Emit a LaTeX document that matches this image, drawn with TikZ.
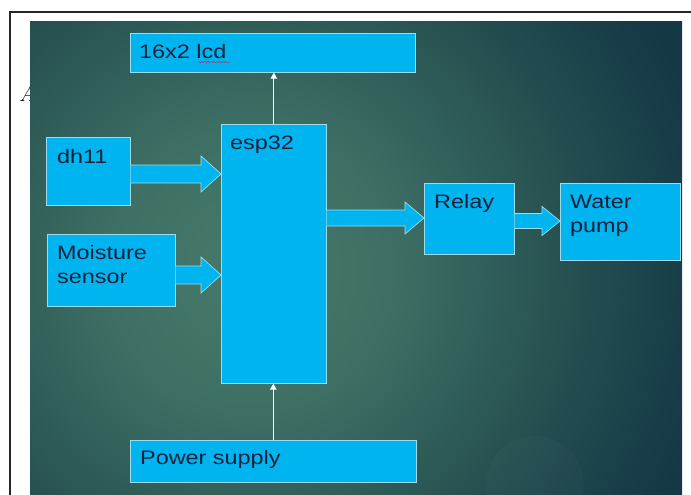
\documentclass[tikz,border=0pt]{standalone}
\usepackage{fontspec}
\newfontfamily\boxfont[FakeStretch=1.2]{Liberation Sans}
\usetikzlibrary{calc,arrows.meta,decorations.pathmorphing}

\definecolor{boxfill}{HTML}{00B5EF}
\definecolor{boxline}{HTML}{9BDDEE}
\definecolor{boxtext}{HTML}{12203C}
\definecolor{bgin}{HTML}{47796B}
\definecolor{bgnear}{HTML}{3E6F64}
\definecolor{bgmid}{HTML}{2D5A56}
\definecolor{bgfar}{HTML}{244C4F}
\definecolor{bgedge}{HTML}{1A404A}
\definecolor{bgout}{HTML}{153845}
\definecolor{spellred}{HTML}{B0406A}
\pgfdeclareradialshading{bgshade}{\pgfpoint{0bp}{0bp}}{color(0bp)=(bgin); color(6.8bp)=(bgnear); color(12.6bp)=(bgmid); color(16.3bp)=(bgfar); color(19.9bp)=(bgedge); color(22.6bp)=(bgout); color(50bp)=(bgout)}

\tikzset{
  blk/.style={draw=boxline, fill=boxfill, line width=0.7pt, anchor=north west, inner sep=0pt},
  lbl/.style={anchor=base west, inner sep=0pt, text=boxtext, align=left, font=\boxfont\fontsize{19.5}{24}\selectfont},
  fatarr/.style={draw=boxline, fill=boxfill, line width=0.7pt, line join=miter},
  wire/.style={draw=white, line width=1.1pt, -{Triangle[length=6pt,width=6.5pt]}},
}

% fat arrow: from, to, y, shaft half, head half, head length
\newcommand{\fatarrow}[6]{%
  \coordinate (fa-s) at (#1.east |- 0,#3);
  \coordinate (fa-e) at (#2.west |- 0,#3);
  \filldraw[fatarr] ($(fa-s)+(0,-#4)$) -- ($(fa-e)+(-#6,-#4)$) -- ($(fa-e)+(-#6,-#5)$)
    -- (fa-e) -- ($(fa-e)+(-#6,#5)$) -- ($(fa-e)+(-#6,#4)$) -- ($(fa-s)+(0,#4)$);
}

\begin{document}
\begin{tikzpicture}[x=1pt, y=-1pt]
  \useasboundingbox (0,0) rectangle (691,495);

  % Marco y letra suelta
  \draw[line width=1.2pt, black!85] (10,495) -- (10,12) -- (691,12);
  \node[font=\itshape\fontsize{22}{26}\selectfont, anchor=base west, inner sep=0pt] (stray) at (19,101) {A};

  % Fondo
  \begin{scope}
    \clip (30,22) rectangle (682,495);
    \shade[shading=bgshade] (250,270) circle (520pt);
    \fill[white, opacity=0.02] (535,485) circle (49pt);
  \end{scope}

  % Bloques
  \node[blk, minimum width=285, minimum height=39] (lcd) at (130,33) {};
  \node[blk, minimum width=84, minimum height=68] (dht) at (46,137) {};
  \node[blk, minimum width=105, minimum height=259] (esp) at (221,124) {};
  \node[blk, minimum width=128, minimum height=72] (moist) at (47,234) {};
  \node[blk, minimum width=90, minimum height=71] (relay) at (424,183) {};
  \node[blk, minimum width=120, minimum height=77] (pump) at (560,183) {};
  \node[blk, minimum width=286, minimum height=42] (psu) at (130,440) {};

  % Textos
  \node[lbl] (lcd-t) at (139,59) {16x2 lcd};
  \node[lbl] (dht-t) at (57,163) {dh11};
  \node[lbl] (esp-t) at (230,149) {esp32};
  \node[lbl] (moist-t) at (57,283) {Moisture\\sensor};
  \node[lbl] (relay-t) at (434,208) {Relay};
  \node[lbl] (pump-t) at (570,232) {Water\\pump};
  \node[lbl] (psu-t) at (140,464) {Power supply};
  \draw[spellred, line width=0.6pt, decorate, decoration={snake, amplitude=0.8pt, segment length=3pt}]
    (198,62) -- (229,62);

  % Flechas gruesas
  \fatarrow{dht}{esp}{174}{9}{18}{20}
  \fatarrow{moist}{esp}{275}{9}{18}{20}
  \fatarrow{esp}{relay}{218}{8}{16}{19}
  \fatarrow{relay}{pump}{221}{7.5}{14.5}{18}

  % Flechas finas
  \draw[wire] (esp.north) -- (esp.north |- lcd.south);
  \draw[wire] (psu.north) -- (psu.north |- esp.south);
\end{tikzpicture}
\end{document}
